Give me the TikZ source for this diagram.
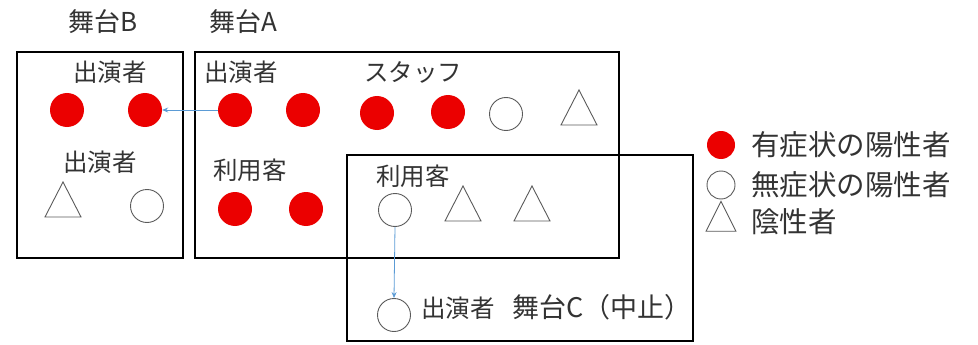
\documentclass[tikz,border=0pt]{standalone}
\usepackage{fontspec}
\setmainfont{Noto Sans CJK JP}
\usetikzlibrary{shapes.geometric,arrows.meta}
\definecolor{pos}{RGB}{235,0,0}
\definecolor{outl}{RGB}{90,90,90}
\definecolor{arr}{RGB}{91,155,213}
\tikzset{
  stagebox/.style={draw=black, line width=2.6pt},
  reddot/.style={circle, fill=pos, draw=none, minimum size=34pt, inner sep=0},
  hollow/.style={circle, draw=outl, line width=0.9pt, minimum size=33pt, inner sep=0},
  neg/.style={isosceles triangle, isosceles triangle stretches, shape border rotate=90, draw=outl, line width=0.9pt, minimum width=36pt, minimum height=35pt, inner sep=0},
  lbl/.style={font=\fontsize{24.5}{28}\selectfont, text=black!80, inner sep=0},
  lg/.style={font=\fontsize{28.5}{32}\selectfont, text=black!80, inner sep=0, anchor=west},
  infect/.style={draw=arr, line width=0.8pt, -{Stealth[length=6pt,width=5pt]}},
}
\begin{document}
\begin{tikzpicture}[x=1pt,y=-1pt]
\useasboundingbox (0,0) rectangle (978,345);
% boxes
\draw[stagebox] (17,52) rectangle (183,258);
\draw[stagebox] (195,52) rectangle (619,258);
\draw[stagebox] (347,155) rectangle (693,341);
% titles
\node[lbl, font=\fontsize{26}{30}\selectfont] (tB) at (103,22) {舞台B};
\node[lbl, font=\fontsize{26}{30}\selectfont] (tA) at (243,22) {舞台A};
% stage B
\node[lbl] (bP1) at (110,72) {出演者};
\node[reddot] (b1) at (67,110) {};
\node[reddot] (b2) at (145,110) {};
\node[lbl] (bP2) at (100,162) {出演者};
\node[neg] (b3) at (63,206) {};
\node[hollow] (b4) at (147,206) {};
% stage A
\node[lbl] (aP) at (241,72) {出演者};
\node[lbl] (aS) at (413,72) {スタッフ};
\node[reddot] (a1) at (235,110) {};
\node[reddot] (a2) at (303,110) {};
\node[reddot] (a3) at (377,113) {};
\node[reddot] (a4) at (448,112) {};
\node[hollow] (a5) at (506,114) {};
\node[neg] (a6) at (579,114) {};
\node[lbl] (aU) at (250,170) {利用客};
\node[reddot] (a7) at (235,209) {};
\node[reddot] (a8) at (306,209) {};
% stage C
\node[lbl] (cU) at (413,176) {利用客};
\node[hollow] (c1) at (395,210) {};
\node[neg] (c2) at (463,210) {};
\node[neg] (c3) at (532,210) {};
\node[hollow] (c4) at (394,315) {};
\node[lbl] (cP) at (458,308) {出演者};
\node[lbl, font=\fontsize{27}{30}\selectfont] (cT) at (602,307) {舞台C（中止）};
% infection arrows
\draw[infect] (a1.west) -- (b2.east);
\draw[infect] (c1.south) -- (c4.north);
% legend
\node[reddot, minimum size=28pt] (l1) at (721,145) {};
\node[hollow, minimum size=28pt] (l2) at (721,185) {};
\node[neg, minimum width=30pt, minimum height=30pt] (l3) at (721,222) {};
\node[lg] (t1) at (751,145) {有症状の陽性者};
\node[lg] (t2) at (751,185) {無症状の陽性者};
\node[lg] (t3) at (751,222) {陰性者};
\end{tikzpicture}
\end{document}
